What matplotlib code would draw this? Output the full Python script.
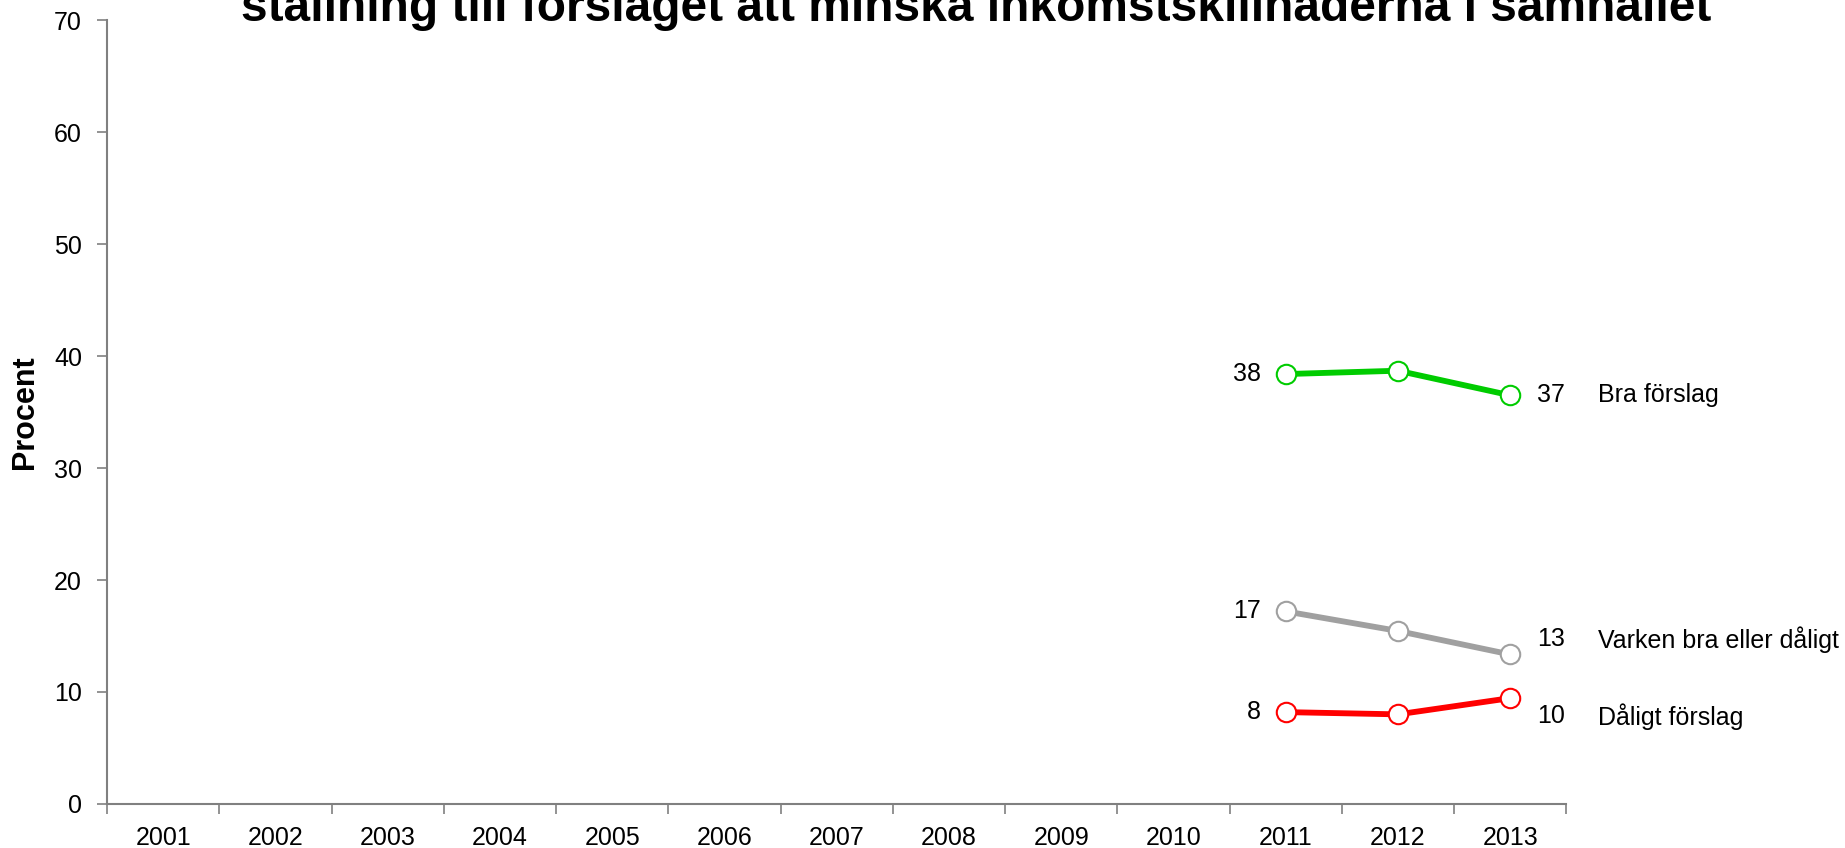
import matplotlib
matplotlib.use('Agg')
import matplotlib.pyplot as plt
import numpy as np

plt.rcParams['font.family'] = ['Liberation Sans', 'DejaVu Sans']

# data
years = ['2001', '2002', '2003', '2004', '2005', '2006', '2007',
         '2008', '2009', '2010', '2011', '2012', '2013']
data_years = ['2011', '2012', '2013']
bra = [38.4, 38.7, 36.5]
varken = [17.2, 15.45, 13.35]
daligt = [8.2, 8.0, 9.45]
series_names = ['Bra förslag', 'Varken bra eller dåligt', 'Dåligt förslag']
first_labels = ['38', '17', '8']
last_labels = ['37', '13', '10']
colors = ['#00CC00', '#A0A0A0', '#FF0000']
title = 'ställning till förslaget att minska inkomstskillnaderna i samhället'

fig = plt.figure(figsize=(18.45, 8.48), dpi=100)
ax = fig.add_axes([0.058, 0.052, 0.791, 0.924])

x_all = np.arange(1, len(years) + 1)
xs = [years.index(y) + 1 for y in data_years]

# vertical offsets (points) for the end labels so they don't collide
last_offsets = [0, 11, -13]

for vals, name, fl, ll, c, off in zip([bra, varken, daligt], series_names,
                                      first_labels, last_labels, colors, last_offsets):
    ax.plot(xs, vals, color=c, linewidth=4.2, marker='o', markersize=14,
            markerfacecolor='white', markeredgecolor=c, markeredgewidth=1.5,
            zorder=3, clip_on=False)
    ax.annotate(fl, (xs[0], vals[0]), xytext=(-18, 0), textcoords='offset points',
                ha='right', va='center', fontsize=18)
    ax.annotate(ll, (xs[-1], vals[-1]), xytext=(19, off), textcoords='offset points',
                ha='left', va='center', fontsize=18)
    ax.annotate(name, (xs[-1], vals[-1]), xytext=(63, off), textcoords='offset points',
                ha='left', va='center', fontsize=18)

ax.set_xlim(0.5, len(years) + 0.5)
ax.set_ylim(0, 70)
ax.set_yticks(range(0, 71, 10))
ax.set_xticks(x_all)
ax.set_xticklabels(years, fontsize=18)
ax.set_xticks(np.arange(0.5, len(years) + 1, 1), minor=True)
ax.tick_params(axis='x', which='major', length=0, pad=16)
ax.tick_params(axis='x', which='minor', length=7, color='#808080', width=1.2)
ax.tick_params(axis='y', labelsize=18, length=7, color='#808080', width=1.2, pad=11)

for s in ['top', 'right']:
    ax.spines[s].set_visible(False)
for s in ['left', 'bottom']:
    ax.spines[s].set_color('#808080')
    ax.spines[s].set_linewidth(1.5)

ax.set_ylabel('Procent', fontsize=22, fontweight='bold', labelpad=10)

fig.text(0.529, 0.975, title, ha='center', va='baseline', fontsize=34.5,
         fontweight='bold')

plt.savefig('out.png', dpi=100)
